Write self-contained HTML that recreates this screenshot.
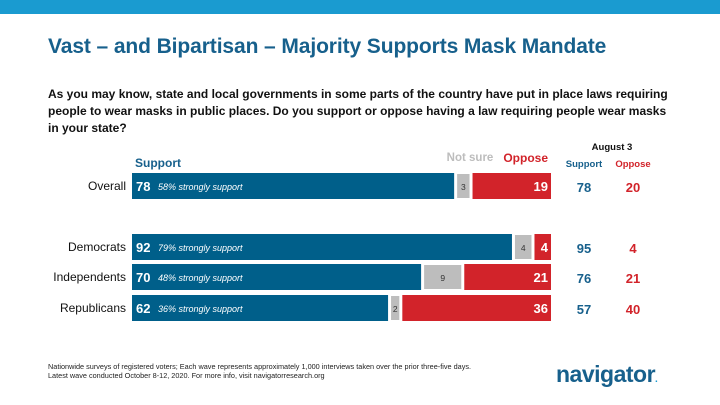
<!DOCTYPE html>
<html><head><meta charset="utf-8"><style>
body{margin:0;width:720px;height:405px;overflow:hidden;background:#fff;font-family:"Liberation Sans",sans-serif;position:relative}
.a{position:absolute;white-space:nowrap}
</style></head><body>
<div class="a" style="left:0;top:0;width:720px;height:14px;background:#1a9bd0"></div>
<div class="a" style="left:48px;top:35px;font-size:21px;font-weight:bold;color:#17608c;letter-spacing:-0.1px">Vast – and Bipartisan – Majority Supports Mask Mandate</div>
<div class="a" style="left:48px;top:86px;font-size:12px;font-weight:bold;color:#111;line-height:17px;white-space:normal;width:630px">As you may know, state and local governments in some parts of the country have put in place laws requiring people to wear masks in public places. Do you support or oppose having a law requiring people wear masks in your state?</div>
<svg class="a" style="left:0;top:0" width="720" height="405">
<g id="g"></g>
</svg>
<div class="a" style="left:48px;top:362px;font-size:7.3px;color:#222;line-height:9px">Nationwide surveys of registered voters; Each wave represents approximately 1,000 interviews taken over the prior three-five days.<br>Latest wave conducted October 8-12, 2020. For more info, visit navigatorresearch.org</div>
<div class="a" style="left:556px;top:361px;font-size:23px;font-weight:bold;color:#17608c;letter-spacing:-0.5px">navigator<span style="color:#1a9bd0;font-size:10px">.</span></div>
<script>
const groups=["Overall","Democrats","Independents","Republicans"];
const support=[78,92,70,62];
const notSure=[3,4,9,2];
const oppose=[19,4,21,36];
const strong=[58,79,48,36];
const augSupport=[78,95,76,57];
const augOppose=[20,4,21,40];
const rowY=[173,234,264,295];
const g=document.getElementById('g');
const NS='http://www.w3.org/2000/svg';
const x0=132,sc=4.13,gap=3,bh=26;
const x=v=>v*sc;
function mk(t,a,txt){const e=document.createElementNS(NS,t);for(const k in a)e.setAttribute(k,a[k]);if(txt!=null)e.textContent=txt;g.appendChild(e);return e;}
function tx(X,Y,s,fill,anchor,size,w,style){return mk('text',{x:X,y:Y,fill:fill,'text-anchor':anchor||'start','font-size':size||12,'font-weight':w||'bold','font-style':style||'normal','font-family':'Liberation Sans, sans-serif'},s);}
let h;
h=tx(135,167,'Support','#17608c','start',12);
h=tx(470,161,'Not sure','#bdbdbd','middle',11.5);
h=tx(548,162,'Oppose','#d2232a','end',12);
h=tx(612,150,'August 3','#111','middle',9.5);
h=tx(584,167,'Support','#17608c','middle',9.5);
h=tx(633,167,'Oppose','#d2232a','middle',9.5);
groups.forEach((gr,i)=>{
 const y=rowY[i];
 let e=tx(126,y+17,gr,'#111','end',12,'normal');
 const ws=x(support[i]),wn=x(notSure[i]),wo=x(oppose[i]);
 let r=mk('rect',{x:x0,y:y,width:ws,height:bh,fill:'#005f8a'});
 e=tx(x0+4,y+18,String(support[i]),'#fff','start',13);
 e=tx(x0+26,y+17,strong[i]+'% strongly support','#fff','start',9,'normal','italic');
 const xn=x0+ws+gap;
 r=mk('rect',{x:xn,y:y+1,width:wn,height:bh-2,fill:'#bdbdbd'});
 e=tx(xn+wn/2,y+17,String(notSure[i]),'#333','middle',8.5,'normal');
 const xo=xn+wn+gap;
 r=mk('rect',{x:xo,y:y,width:wo,height:bh,fill:'#d2232a'});
 e=tx(xo+wo-3,y+18,String(oppose[i]),'#fff','end',13);
 e=tx(584,y+19,String(augSupport[i]),'#17608c','middle',13);
 e=tx(633,y+19,String(augOppose[i]),'#d2232a','middle',13);
});
</script>
</body></html>
